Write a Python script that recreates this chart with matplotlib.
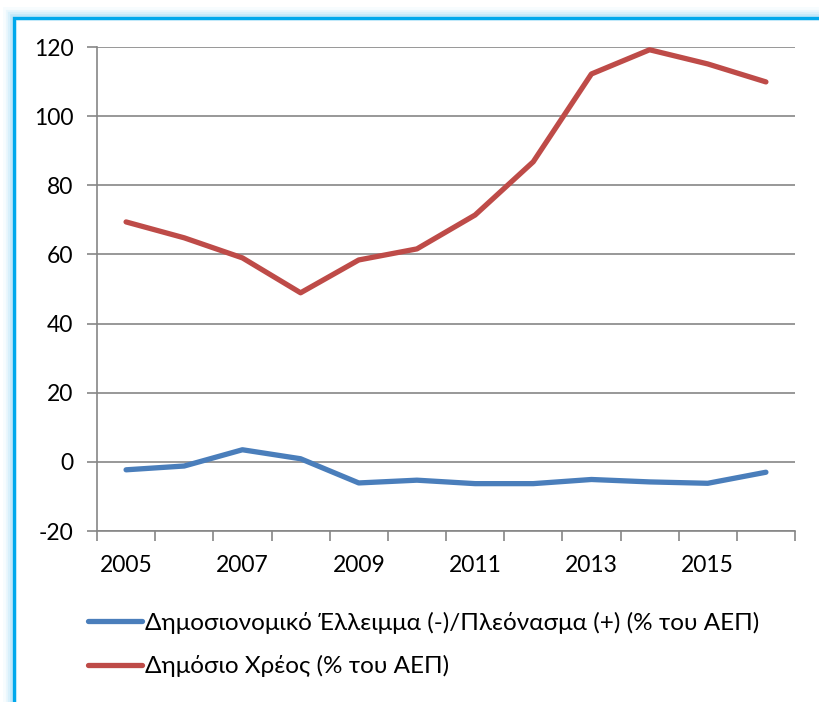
import matplotlib
matplotlib.use("Agg")
import matplotlib.pyplot as plt
from matplotlib.patches import Rectangle
import numpy as np

years = [2005, 2006, 2007, 2008, 2009, 2010, 2011, 2012, 2013, 2014, 2015, 2016]
deficit = [-2.3, -1.2, 3.5, 0.9, -6.1, -5.3, -6.3, -6.3, -5.1, -5.8, -6.2, -3.0]
debt = [69.4, 64.8, 59.0, 48.9, 58.4, 61.6, 71.4, 86.8, 112.2, 119.2, 115.1, 109.9]
deficit_label = "Δημοσιονομικό Έλλειμμα (-)/Πλεόνασμα (+) (% του ΑΕΠ)"
debt_label = "Δημόσιο Χρέος (% του ΑΕΠ)"

plt.rcParams['font.family'] = ['Lato', 'DejaVu Sans']
plt.rcParams['axes.unicode_minus'] = False

W, H = 819, 702
fig = plt.figure(figsize=(W / 100, H / 100), dpi=100)

# cyan frame with soft glow
for i, a in enumerate([0.06, 0.1, 0.16, 0.25]):
    off = 4 - i
    fig.patches.append(Rectangle((14 / W - off / W, -0.1), 1.2, 1.1 - 18 / H + off / H,
                                 transform=fig.transFigure, fill=False,
                                 edgecolor='#7fcff5', alpha=a, linewidth=2 + 2 * off))
fig.patches.append(Rectangle((14 / W, -0.1), 1.2, 1.1 - 18 / H,
                             transform=fig.transFigure, fill=False,
                             edgecolor='#00a8ec', linewidth=2.4))

ax = fig.add_axes([97 / W, 1 - 531 / H, (795 - 97) / W, (531 - 47) / H])
x = np.arange(len(years))
ax.plot(x, deficit, color='#4A7EBB', lw=3.8, solid_capstyle='round', label=deficit_label)
ax.plot(x, debt, color='#BE4B48', lw=3.8, solid_capstyle='round', label=debt_label)

ax.set_xlim(-0.5, len(years) - 0.5)
ax.set_ylim(-20, 120)
ax.set_yticks(range(-20, 121, 20))
ax.yaxis.grid(True, color='#868686', lw=1.2)
ax.set_axisbelow(True)

ax.set_xticks(np.arange(-0.5, len(years), 1))
ax.set_xticklabels([])
ax.set_xticks(x[::2], minor=True)
ax.set_xticklabels([str(y) for y in years[::2]], minor=True)
ax.tick_params(axis='x', which='major', length=7, width=1.2, color='#868686', direction='out')
ax.tick_params(axis='x', which='minor', length=0, pad=17, labelsize=16.5)
ax.tick_params(axis='y', length=7, width=1.2, color='#868686', direction='out', pad=10, labelsize=16.5)

for s in ['top', 'right']:
    ax.spines[s].set_visible(False)
for s in ['left', 'bottom']:
    ax.spines[s].set_color('#868686')
    ax.spines[s].set_linewidth(1.2)

fig.legend(loc='upper left', bbox_to_anchor=(78 / W, 1 - 602 / H), frameon=False,
           fontsize=17.5, handlelength=2.25, handletextpad=0.1, labelspacing=0.87,
           borderaxespad=0)

fig.savefig("out.png", dpi=100)
